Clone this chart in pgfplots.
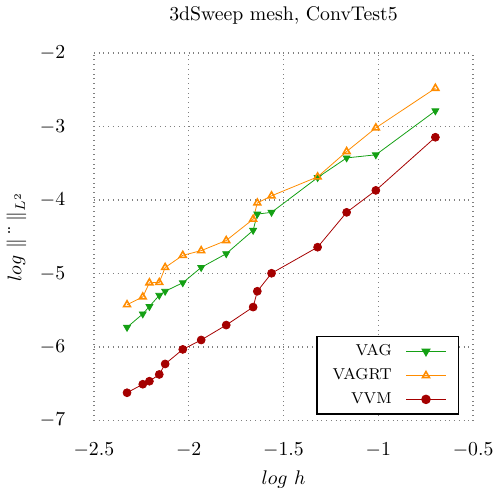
\documentclass[border=0pt]{standalone}
\usepackage{pgfplots}
\pgfplotsset{compat=1.18}
\definecolor{vag}{RGB}{20,160,20}
\definecolor{vagrt}{RGB}{255,140,0}
\definecolor{vvm}{RGB}{165,0,0}

\begin{document}
\begin{tikzpicture}
\begin{axis}[
  scale only axis,
  width=192pt, height=186pt,
  xmin=-2.5, xmax=-0.5,
  ymin=-7, ymax=-2,
  xtick={-2.5,-2,-1.5,-1,-0.5},
  ytick={-7,-6,-5,-4,-3,-2},
  grid=major,
  major grid style={dotted, gray, thick},
  axis line style={draw=none},
  tick style={draw=none},
  xticklabel shift=8pt,
  yticklabel shift=11pt,
  title style={yshift=5pt},
  title={3dSweep mesh, ConvTest5},
  xlabel={$log\ h$},
  ylabel={$log\ \|\ddot{\hphantom{m}}\|_{L^2}$},
  legend cell align=right,
  legend plot pos=right,
  legend image code/.code={\draw[mark repeat=2,mark phase=2,#1] plot coordinates {(0cm,0cm) (0.35cm,0cm) (0.7cm,0cm)};},
  legend style={font=\footnotesize, draw=black, thick, at={(0.963,0.015)}, anchor=south east,
    row sep=1pt, column sep=5pt, inner xsep=6pt},
]
% VAG
\addplot[color=vag, mark=triangle*, mark options={rotate=180, fill=vag}] coordinates {
  (-2.325,-5.733) (-2.242,-5.550) (-2.207,-5.449) (-2.155,-5.297) (-2.124,-5.242)
  (-2.031,-5.126) (-1.934,-4.918) (-1.802,-4.731) (-1.660,-4.413) (-1.638,-4.192)
  (-1.563,-4.168) (-1.320,-3.695) (-1.167,-3.427) (-1.013,-3.385) (-0.699,-2.787)
};
\addlegendentry{VAG}
% VAGRT
\addplot[color=vagrt, mark=triangle, mark options={solid, thick}] coordinates {
  (-2.325,-5.425) (-2.242,-5.319) (-2.207,-5.126) (-2.155,-5.122) (-2.124,-4.918)
  (-2.031,-4.753) (-1.934,-4.689) (-1.802,-4.551) (-1.660,-4.261) (-1.638,-4.040)
  (-1.563,-3.943) (-1.320,-3.685) (-1.167,-3.340) (-1.013,-3.018) (-0.699,-2.479)
};
\addlegendentry{VAGRT}
% VVM
\addplot[color=vvm, mark=*, mark options={fill=vvm}] coordinates {
  (-2.325,-6.623) (-2.242,-6.507) (-2.207,-6.466) (-2.155,-6.374) (-2.124,-6.231)
  (-2.031,-6.033) (-1.934,-5.905) (-1.802,-5.702) (-1.660,-5.457) (-1.638,-5.242)
  (-1.563,-4.997) (-1.320,-4.642) (-1.167,-4.168) (-1.013,-3.869) (-0.699,-3.146)
};
\addlegendentry{VVM}
\end{axis}
\end{tikzpicture}
\end{document}
